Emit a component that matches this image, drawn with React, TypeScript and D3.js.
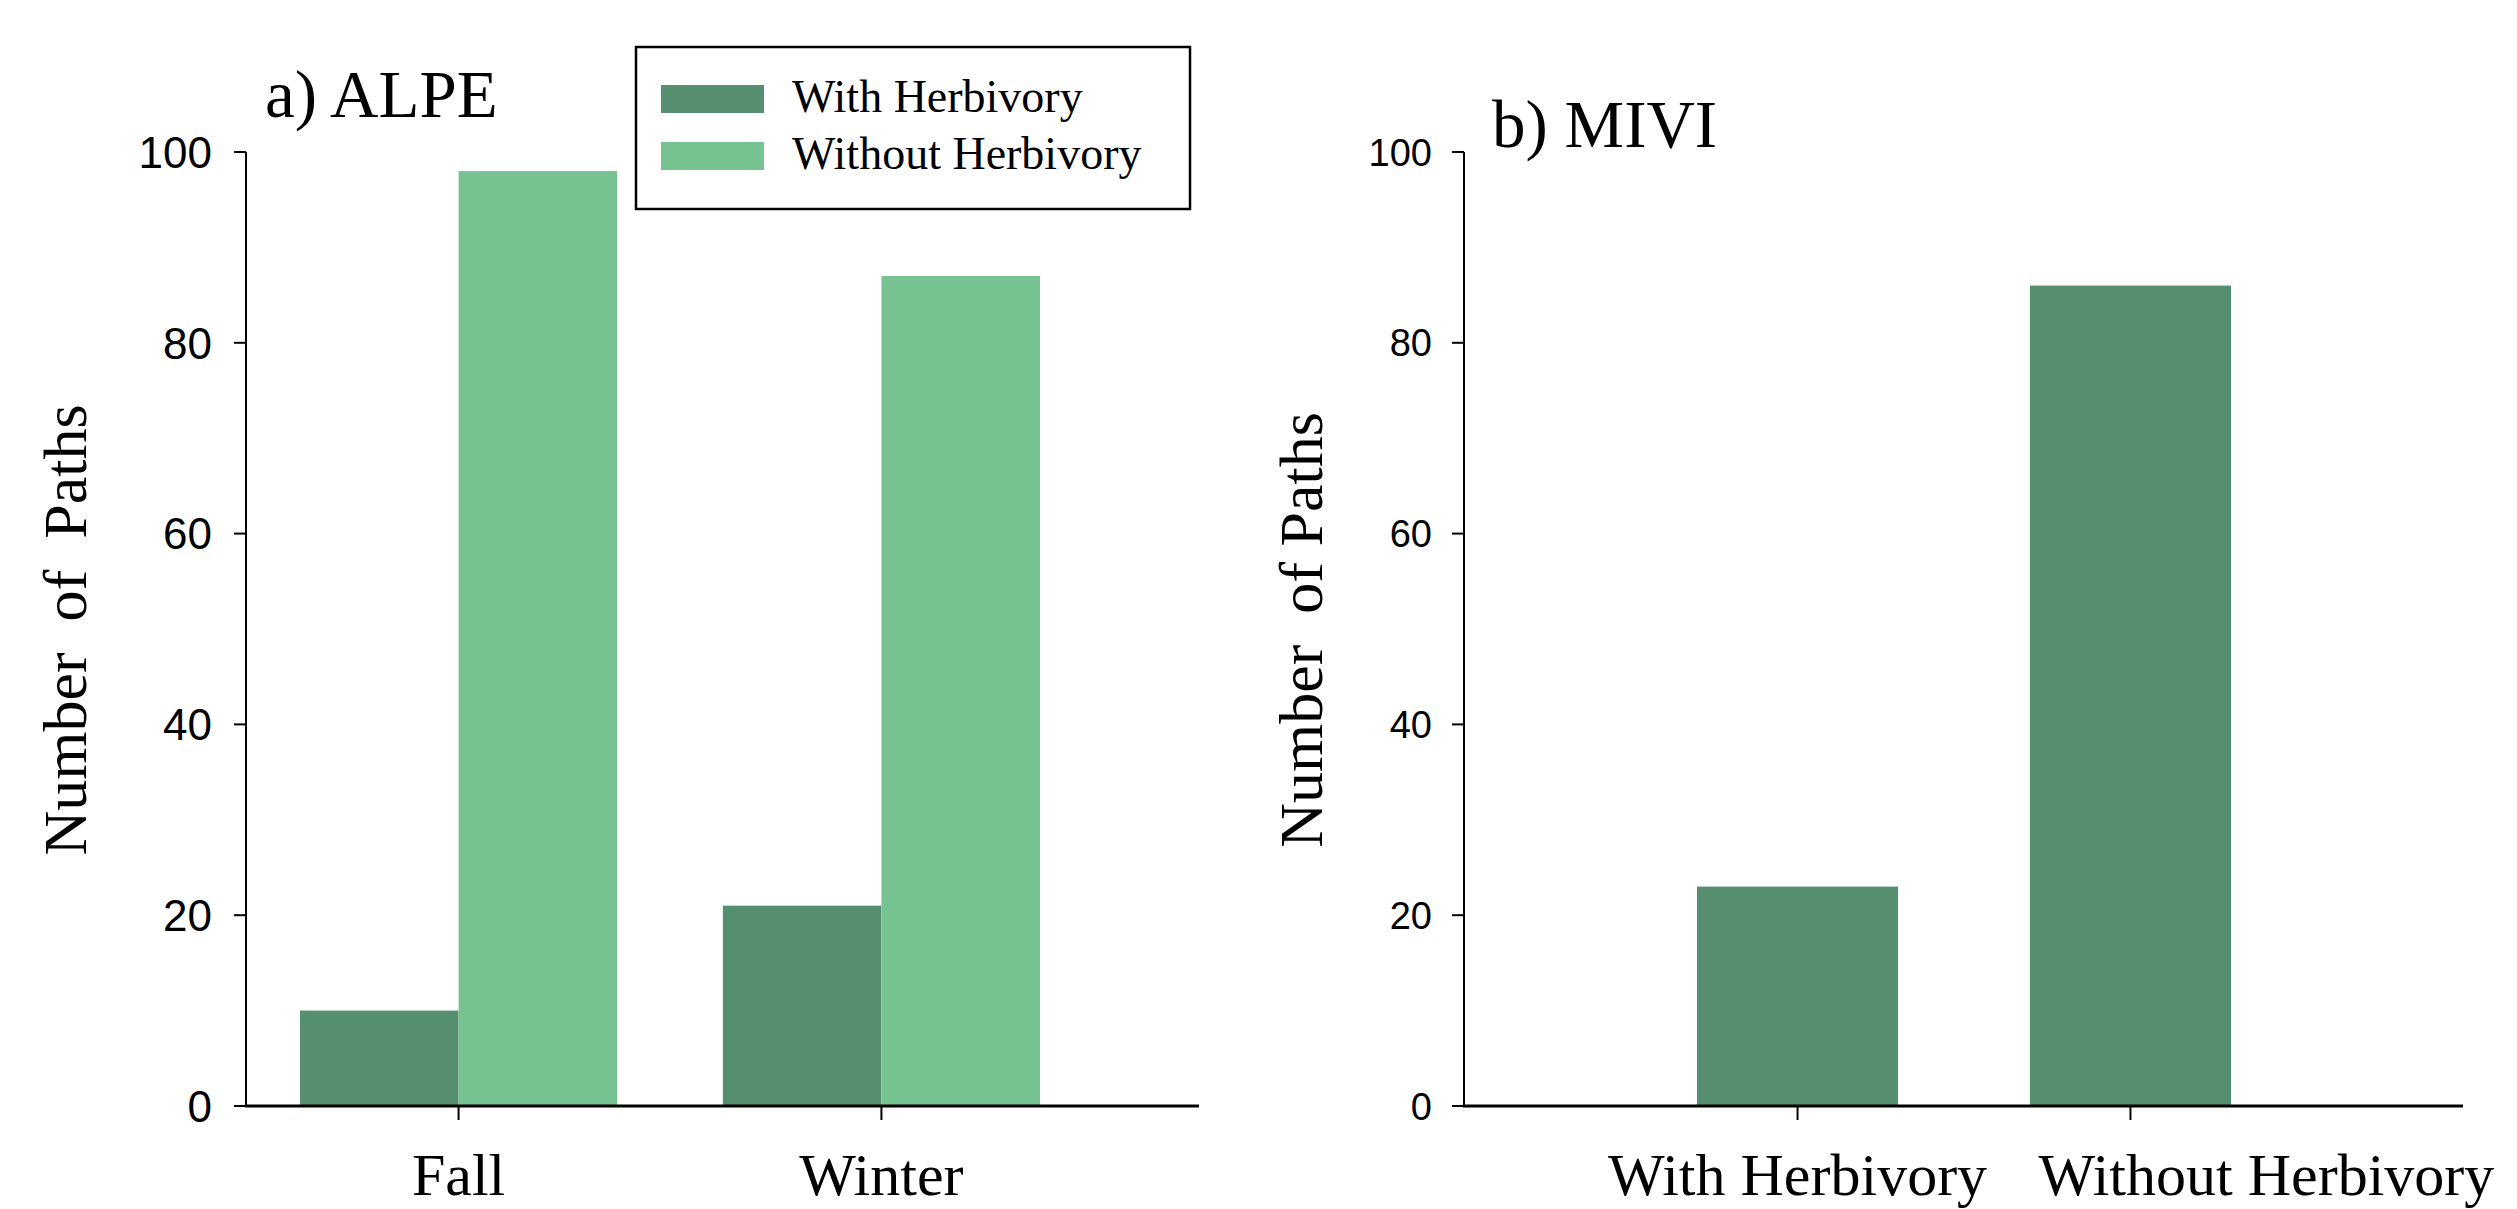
import React from "react";
import * as d3 from "d3";

const seasons = ["Fall", "Winter"];
const seriesNames = ["With Herbivory", "Without Herbivory"];
const alpeWith = [10, 21];
const alpeWithout = [98, 87];
const miviCategories = ["With Herbivory", "Without Herbivory"];
const miviValues = [23, 86];
const yTicks = [0, 20, 40, 60, 80, 100];

const DARK = "#568f6f";
const LIGHT = "#77c291";
const SERIF = "'Liberation Serif', 'Times New Roman', serif";
const SANS = "'Liberation Sans', Arial, sans-serif";

export default function App() {
  const W = 2517;
  const H = 1209;
  const y = d3.scaleLinear().domain([0, 100]).range([1106, 152]);

  // left panel
  const lx0 = 246, lx1 = 1199;
  const xL = d3.scaleBand<string>().domain(seasons).range([300, 1040]).paddingInner(0.25).paddingOuter(0);
  const half = xL.bandwidth() / 2;

  // right panel
  const rx0 = 1464, rx1 = 2463;
  const xR = d3.scaleBand<string>().domain(miviCategories).range([1697, 2231]).paddingInner(0.396).paddingOuter(0);

  const colors = [DARK, LIGHT];
  const alpeSeries = [alpeWith, alpeWithout];
  const xLabelY = 1195;
  const xLabelSize = 60;

  return (
    <svg width={W} height={H} style={{ position: "absolute", left: 0, top: 0, background: "#fff" }}>
      {/* ===== Left panel ===== */}
      {alpeSeries.map((vals, si) =>
        seasons.map((s, i) => (
          <rect
            key={`a-${si}-${i}`}
            x={(xL(s) as number) + si * half}
            y={y(vals[i])}
            width={half}
            height={y(0) - y(vals[i])}
            fill={colors[si]}
          />
        ))
      )}
      <line x1={lx0} x2={lx0} y1={y(100)} y2={y(0)} stroke="#000" strokeWidth={2} />
      <line x1={lx0 - 1} x2={lx1} y1={y(0)} y2={y(0)} stroke="#000" strokeWidth={3} />
      {yTicks.map((t) => (
        <g key={`ly-${t}`}>
          <line x1={lx0 - 12} x2={lx0} y1={y(t)} y2={y(t)} stroke="#000" strokeWidth={2} />
          <text x={212} y={y(t)} dy="0.36em" textAnchor="end" fontFamily={SANS} fontSize={44} fill="#000">
            {t}
          </text>
        </g>
      ))}
      {seasons.map((s) => {
        const cx = (xL(s) as number) + half;
        return (
          <g key={`lx-${s}`}>
            <line x1={cx} x2={cx} y1={y(0)} y2={y(0) + 14} stroke="#000" strokeWidth={2} />
            <text x={cx} y={xLabelY} textAnchor="middle" fontFamily={SERIF} fontSize={xLabelSize} fill="#000">
              {s}
            </text>
          </g>
        );
      })}
      <text
        transform={`translate(86,630) rotate(-90)`}
        textAnchor="middle"
        fontFamily={SERIF}
        fontSize={62}
        fill="#000"
        style={{ whiteSpace: "pre" }}
      >
        {"Number  of  Paths"}
      </text>
      <text x={265} y={117} fontFamily={SERIF} fontSize={67} fill="#000">
        a) ALPE
      </text>

      {/* legend */}
      <rect x={636} y={47} width={554} height={162} fill="#fff" stroke="#000" strokeWidth={2.5} />
      {seriesNames.map((n, i) => (
        <g key={`lg-${n}`}>
          <rect x={661} y={85 + i * 57} width={103} height={28} fill={colors[i]} />
          <text x={792} y={112 + i * 57} fontFamily={SERIF} fontSize={46} fill="#000">
            {n}
          </text>
        </g>
      ))}

      {/* ===== Right panel ===== */}
      {miviCategories.map((c, i) => (
        <rect
          key={`m-${i}`}
          x={xR(c) as number}
          y={y(miviValues[i])}
          width={xR.bandwidth()}
          height={y(0) - y(miviValues[i])}
          fill={DARK}
        />
      ))}
      <line x1={rx0} x2={rx0} y1={y(100)} y2={y(0)} stroke="#000" strokeWidth={2} />
      <line x1={rx0 - 1} x2={rx1} y1={y(0)} y2={y(0)} stroke="#000" strokeWidth={3} />
      {yTicks.map((t) => (
        <g key={`ry-${t}`}>
          <line x1={rx0 - 12} x2={rx0} y1={y(t)} y2={y(t)} stroke="#000" strokeWidth={2} />
          <text x={1432} y={y(t)} dy="0.36em" textAnchor="end" fontFamily={SANS} fontSize={38} fill="#000">
            {t}
          </text>
        </g>
      ))}
      {miviCategories.map((c, i) => {
        const cx = (xR(c) as number) + xR.bandwidth() / 2;
        return (
          <g key={`rx-${c}`}>
            <line x1={cx} x2={cx} y1={y(0)} y2={y(0) + 14} stroke="#000" strokeWidth={2} />
            <text
              x={i === 0 ? cx : cx - 92}
              y={xLabelY}
              textAnchor={i === 0 ? "middle" : "start"}
              fontFamily={SERIF}
              fontSize={xLabelSize}
              fill="#000"
            >
              {c}
            </text>
          </g>
        );
      })}
      <text
        transform={`translate(1322,630) rotate(-90)`}
        textAnchor="middle"
        fontFamily={SERIF}
        fontSize={62}
        fill="#000"
        style={{ whiteSpace: "pre" }}
      >
        {"Number  of Paths"}
      </text>
      <text x={1492} y={147} fontFamily={SERIF} fontSize={67} fill="#000">
        b) MIVI
      </text>
    </svg>
  );
}
